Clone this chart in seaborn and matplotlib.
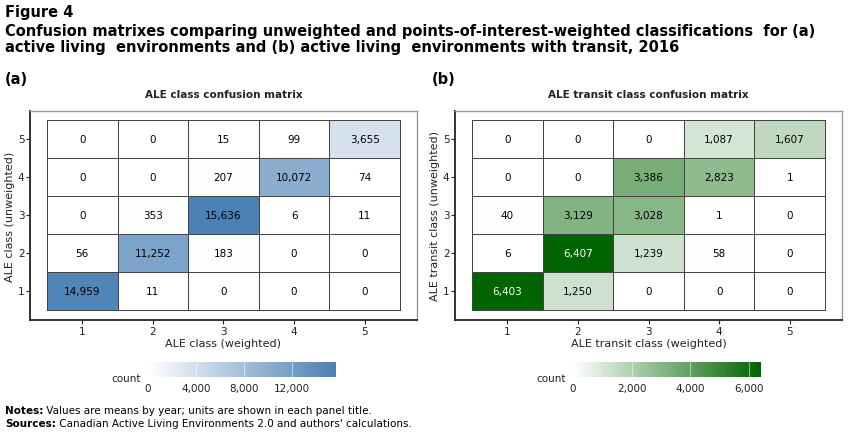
import matplotlib
matplotlib.use("Agg")
import matplotlib.pyplot as plt
from matplotlib.colors import LinearSegmentedColormap
from matplotlib.text import Annotation
import pandas as pd
import seaborn as sns

# classes 1..5, rows = unweighted class (listed top row = class 5), cols = weighted class
classes = [1, 2, 3, 4, 5]
rows_top_down = [5, 4, 3, 2, 1]

ale_counts = [
    [0, 0, 15, 99, 3655],
    [0, 0, 207, 10072, 74],
    [0, 353, 15636, 6, 11],
    [56, 11252, 183, 0, 0],
    [14959, 11, 0, 0, 0],
]
transit_counts = [
    [0, 0, 0, 1087, 1607],
    [0, 0, 3386, 2823, 1],
    [40, 3129, 3028, 1, 0],
    [6, 6407, 1239, 58, 0],
    [6403, 1250, 0, 0, 0],
]

ale_ticks = [0, 4000, 8000, 12000]
transit_ticks = [0, 2000, 4000, 6000]

sns.set_style("white")
plt.rcParams["font.family"] = ["DejaVu Sans"]
plt.rcParams["text.color"] = "black"
plt.rcParams["axes.labelcolor"] = "#222222"
plt.rcParams["xtick.color"] = "#222222"
plt.rcParams["ytick.color"] = "#222222"

blues = LinearSegmentedColormap.from_list("bl", ["#ffffff", "#4a80b4"])
greens = LinearSegmentedColormap.from_list("gr", ["#ffffff", "#006400"])

fig = plt.figure(figsize=(8.54, 4.39), dpi=100)

panels = [
    (ale_counts, blues, ale_ticks, "ALE class confusion matrix",
     "ALE class (weighted)", "ALE class (unweighted)", 0.0351, 0.1733, None),
    (transit_counts, greens, transit_ticks, "ALE transit class confusion matrix",
     "ALE transit class (weighted)", "ALE transit class (unweighted)", 0.5328, 0.671, 6000),
]

for counts, cmap, cticks, title, xlab, ylab, left, cleft, white_above in panels:
    df = pd.DataFrame(counts, index=rows_top_down, columns=classes)
    ax = fig.add_axes([left, 0.2688, 0.4532, 0.4761])
    sns.heatmap(df, ax=ax, cmap=cmap, vmin=0, vmax=df.values.max(), annot=True, fmt=",",
                annot_kws={"fontsize": 7.5, "color": "black"}, linewidths=0.7,
                linecolor="#444444", cbar=False)
    if white_above:
        for t in ax.texts:
            if int(t.get_text().replace(",", "")) > white_above:
                t.set_color("white")
    ax.set_xlim(-0.24, 5.24)
    ax.set_ylim(5.25, -0.25)
    ax.set_title(title, fontsize=7.5, fontweight="bold", pad=10, color="#222222")
    ax.set_xlabel(xlab, fontsize=8, labelpad=2)
    ax.set_ylabel(ylab, fontsize=8, labelpad=2)
    ax.tick_params(axis="both", labelsize=7.5, length=3, width=0.8,
                   bottom=True, left=True, pad=1)
    ax.set_yticklabels(rows_top_down, rotation=0)
    for side in ["left", "bottom"]:
        ax.spines[side].set_visible(True)
        ax.spines[side].set_color("#222222")
        ax.spines[side].set_linewidth(1.3)
    for side in ["top", "right"]:
        ax.spines[side].set_visible(True)
        ax.spines[side].set_color("#999999")
        ax.spines[side].set_linewidth(1.0)

    cax = fig.add_axes([cleft, 0.139, 0.2201, 0.034])
    cb = fig.colorbar(ax.collections[0], cax=cax, orientation="horizontal", ticks=cticks)
    cb.outline.set_visible(False)
    cb.ax.tick_params(labelsize=7.5, length=0, pad=4)
    cb.ax.set_xticklabels([f"{v:,}" for v in cticks])
    for v in cticks[1:]:
        cb.ax.axvline(v, color="white", lw=0.8, alpha=0.5)
    cb.ax.text(-0.04, -0.05, "count", transform=cb.ax.transAxes, ha="right", va="center",
               fontsize=7.5, color="#222222")

fig.text(0.006, 0.972, "Figure 4", fontsize=10.5, fontweight="bold", va="center")
fig.text(0.006, 0.928, "Confusion matrixes comparing unweighted and points-of-interest-weighted "
         "classifications  for (a)", fontsize=10.5, fontweight="bold", va="center")
fig.text(0.006, 0.891, "active living  environments and (b) active living  environments with "
         "transit, 2016", fontsize=10.5, fontweight="bold", va="center")
fig.text(0.006, 0.818, "(a)", fontsize=10.5, fontweight="bold", va="center")
fig.text(0.506, 0.818, "(b)", fontsize=10.5, fontweight="bold", va="center")

# footnotes: bold lead-in followed by regular text
for y, lead, rest in [(0.064, "Notes:", " Values are means by year; units are shown in each panel title."),
                      (0.034, "Sources:", " Canadian Active Living Environments 2.0 and authors' calculations.")]:
    lt = fig.text(0.006, y, lead, fontsize=7.5, fontweight="bold", va="center")
    fig.add_artist(Annotation(rest, xy=(1, 0.5), xycoords=lt, va="center", ha="left",
                              fontsize=7.5))

fig.savefig("out.png", dpi=100)
